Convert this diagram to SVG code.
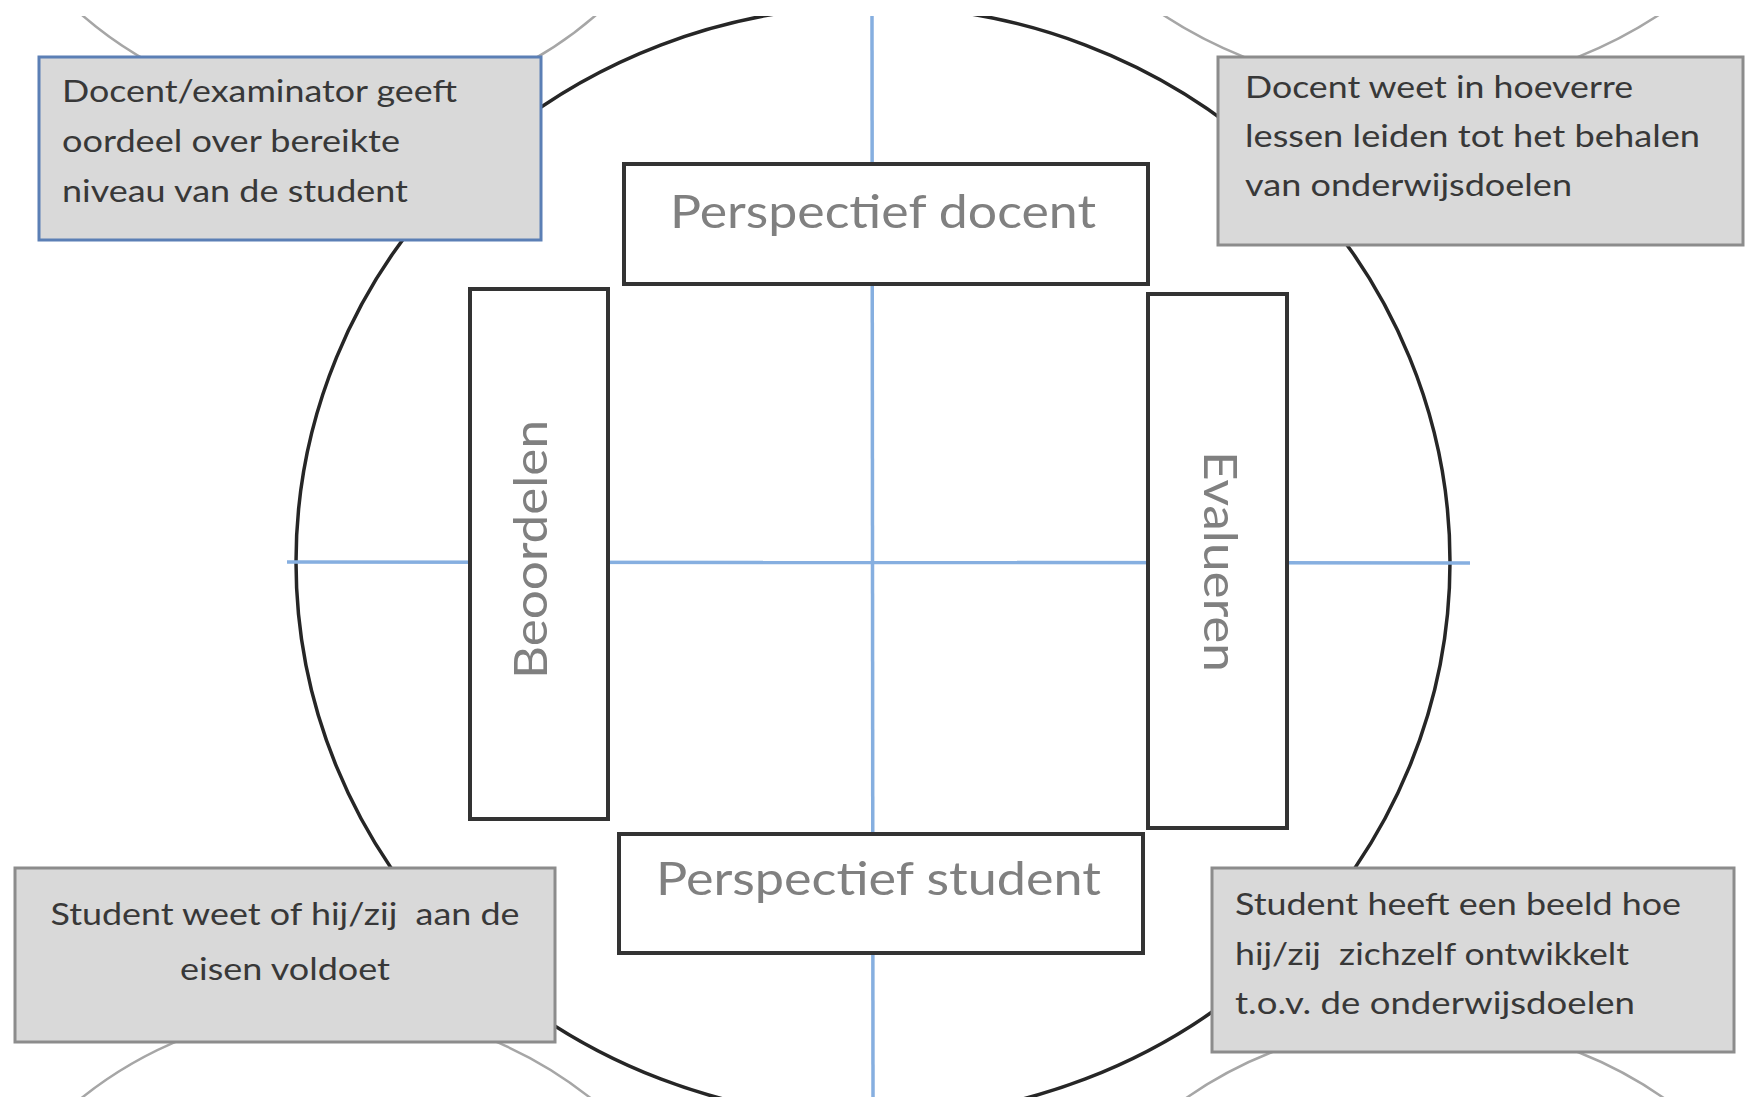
<svg xmlns="http://www.w3.org/2000/svg" width="1745" height="1097" viewBox="0 0 1745 1097">
  <style>
    .ring { fill: none; stroke: #a6a6a6; stroke-width: 2.5; }
    .big { fill: none; stroke: #262626; stroke-width: 3.5; }
    .axis { stroke: #86afe0; stroke-width: 3.5; fill: none; }
    .frame { fill: #ffffff; stroke: #333333; stroke-width: 4; }
    .note { fill: #d9d9d9; stroke: #8c8c8c; stroke-width: 3; }
    .note-blue { fill: #d9d9d9; stroke: #5b7fb5; stroke-width: 3; }
    .label { font-family: Lato, "Liberation Sans", sans-serif; font-size: 47px; fill: #808080; }
    .ntext { font-family: Lato, "Liberation Sans", sans-serif; font-size: 31px; fill: #383838; }
  </style>
  <defs>
    <clipPath id="crop">
      <rect x="0" y="16" width="1745" height="1081"/>
    </clipPath>
  </defs>
  <rect x="0" y="0" width="1745" height="1097" fill="#ffffff"/>
  <g id="connectors" clip-path="url(#crop)">
    <circle class="ring" cx="339" cy="-281" r="392"/>
    <circle class="ring" cx="1411" cy="-362" r="451"/>
    <circle class="ring" cx="336" cy="1417" r="408"/>
    <circle class="ring" cx="1425" cy="1440" r="417"/>
    <ellipse class="big" cx="873" cy="562" rx="577" ry="556"/>
    <line class="axis" x1="872" y1="16" x2="873" y2="1097"/>
    <line class="axis" x1="287" y1="562" x2="1470" y2="563"/>
  </g>
  <g id="perspectief-docent">
    <rect class="frame" x="624" y="164" width="524" height="120"/>
    <text class="label" x="670" y="228" textLength="426" lengthAdjust="spacingAndGlyphs">Perspectief docent</text>
  </g>
  <g id="perspectief-student">
    <rect class="frame" x="619" y="834" width="524" height="119"/>
    <text class="label" x="656" y="895" textLength="445" lengthAdjust="spacingAndGlyphs">Perspectief student</text>
  </g>
  <g id="beoordelen">
    <rect class="frame" x="470" y="289" width="138" height="530"/>
    <text class="label" transform="translate(547,679) rotate(-90)" x="0" y="0" textLength="259" lengthAdjust="spacingAndGlyphs">Beoordelen</text>
  </g>
  <g id="evalueren">
    <rect class="frame" x="1148" y="294" width="139" height="534"/>
    <text class="label" transform="translate(1204,451) rotate(90)" x="0" y="0" textLength="221" lengthAdjust="spacingAndGlyphs">Evalueren</text>
  </g>
  <g id="note-top-left">
    <rect class="note-blue" x="39" y="57" width="502" height="183"/>
    <text class="ntext" x="62" y="102" textLength="395" lengthAdjust="spacingAndGlyphs">Docent/examinator geeft</text>
    <text class="ntext" x="62" y="152" textLength="338" lengthAdjust="spacingAndGlyphs">oordeel over bereikte</text>
    <text class="ntext" x="62" y="202" textLength="346" lengthAdjust="spacingAndGlyphs">niveau van de student</text>
  </g>
  <g id="note-top-right">
    <rect class="note" x="1218" y="57" width="525" height="188"/>
    <text class="ntext" x="1245" y="98" textLength="388" lengthAdjust="spacingAndGlyphs">Docent weet in hoeverre</text>
    <text class="ntext" x="1245" y="147" textLength="455" lengthAdjust="spacingAndGlyphs">lessen leiden tot het behalen</text>
    <text class="ntext" x="1245" y="196" textLength="327" lengthAdjust="spacingAndGlyphs">van onderwijsdoelen</text>
  </g>
  <g id="note-bottom-left">
    <rect class="note" x="15" y="868" width="540" height="174"/>
    <text class="ntext" x="285" y="925" text-anchor="middle" textLength="469" lengthAdjust="spacingAndGlyphs" xml:space="preserve">Student weet of hij/zij  aan de</text>
    <text class="ntext" x="285" y="980" text-anchor="middle" textLength="210" lengthAdjust="spacingAndGlyphs">eisen voldoet</text>
  </g>
  <g id="note-bottom-right">
    <rect class="note" x="1212" y="868" width="522" height="184"/>
    <text class="ntext" x="1235" y="915" textLength="446" lengthAdjust="spacingAndGlyphs">Student heeft een beeld hoe</text>
    <text class="ntext" x="1235" y="965" textLength="394" lengthAdjust="spacingAndGlyphs" xml:space="preserve">hij/zij  zichzelf ontwikkelt</text>
    <text class="ntext" x="1235" y="1014" textLength="400" lengthAdjust="spacingAndGlyphs">t.o.v. de onderwijsdoelen</text>
  </g>
</svg>
